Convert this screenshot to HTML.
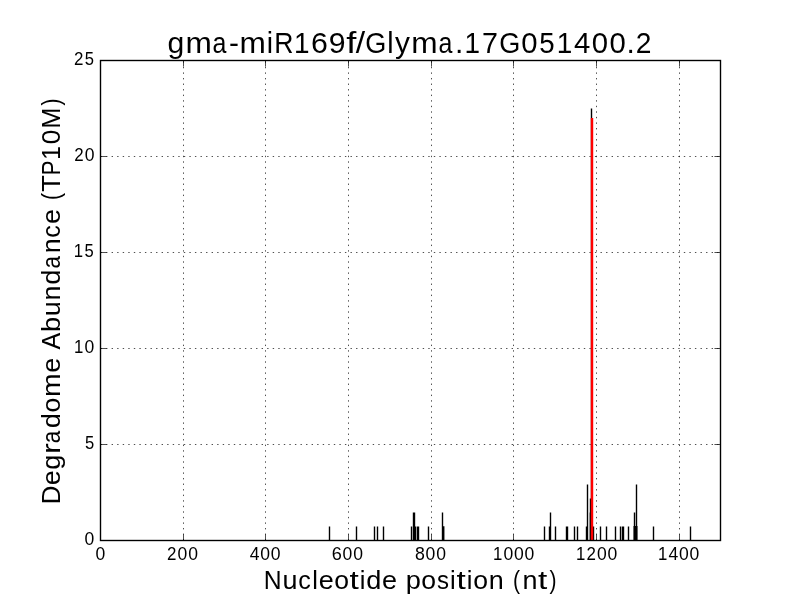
<!DOCTYPE html>
<html><head><meta charset="utf-8"><title>gma-miR169f/Glyma.17G051400.2</title>
<style>
html,body{margin:0;padding:0;background:#fff;width:800px;height:600px;overflow:hidden}
svg{display:block;will-change:transform}
text{font-family:"Liberation Sans",sans-serif;fill:#000}
</style></head><body>
<svg width="800" height="600" viewBox="0 0 800 600">
<rect width="800" height="600" fill="#fff"/>
<line x1="183.5" y1="540" x2="183.5" y2="60" stroke="#000" stroke-width="0.6944" stroke-dasharray="1.3889 4.1667" stroke-dashoffset="0.5"/>
<line x1="265.5" y1="540" x2="265.5" y2="60" stroke="#000" stroke-width="0.6944" stroke-dasharray="1.3889 4.1667" stroke-dashoffset="0.5"/>
<line x1="348.5" y1="540" x2="348.5" y2="60" stroke="#000" stroke-width="0.6944" stroke-dasharray="1.3889 4.1667" stroke-dashoffset="0.5"/>
<line x1="431.5" y1="540" x2="431.5" y2="60" stroke="#000" stroke-width="0.6944" stroke-dasharray="1.3889 4.1667" stroke-dashoffset="0.5"/>
<line x1="513.5" y1="540" x2="513.5" y2="60" stroke="#000" stroke-width="0.6944" stroke-dasharray="1.3889 4.1667" stroke-dashoffset="0.5"/>
<line x1="596.5" y1="540" x2="596.5" y2="60" stroke="#000" stroke-width="0.6944" stroke-dasharray="1.3889 4.1667" stroke-dashoffset="0.5"/>
<line x1="679.5" y1="540" x2="679.5" y2="60" stroke="#000" stroke-width="0.6944" stroke-dasharray="1.3889 4.1667" stroke-dashoffset="0.5"/>
<line x1="100" y1="156.5" x2="720" y2="156.5" stroke="#000" stroke-width="0.6944" stroke-dasharray="1.3889 4.1667" stroke-dashoffset="-0.5"/>
<line x1="100" y1="252.5" x2="720" y2="252.5" stroke="#000" stroke-width="0.6944" stroke-dasharray="1.3889 4.1667" stroke-dashoffset="-0.5"/>
<line x1="100" y1="348.5" x2="720" y2="348.5" stroke="#000" stroke-width="0.6944" stroke-dasharray="1.3889 4.1667" stroke-dashoffset="-0.5"/>
<line x1="100" y1="444.5" x2="720" y2="444.5" stroke="#000" stroke-width="0.6944" stroke-dasharray="1.3889 4.1667" stroke-dashoffset="-0.5"/>
<line x1="183.5" y1="540" x2="183.5" y2="534.444" stroke="#000" stroke-width="0.6944"/>
<line x1="183.5" y1="60" x2="183.5" y2="66.6" stroke="#000" stroke-width="0.6944"/>
<line x1="265.5" y1="540" x2="265.5" y2="534.444" stroke="#000" stroke-width="0.6944"/>
<line x1="265.5" y1="60" x2="265.5" y2="66.6" stroke="#000" stroke-width="0.6944"/>
<line x1="348.5" y1="540" x2="348.5" y2="534.444" stroke="#000" stroke-width="0.6944"/>
<line x1="348.5" y1="60" x2="348.5" y2="66.6" stroke="#000" stroke-width="0.6944"/>
<line x1="431.5" y1="540" x2="431.5" y2="534.444" stroke="#000" stroke-width="0.6944"/>
<line x1="431.5" y1="60" x2="431.5" y2="66.6" stroke="#000" stroke-width="0.6944"/>
<line x1="513.5" y1="540" x2="513.5" y2="534.444" stroke="#000" stroke-width="0.6944"/>
<line x1="513.5" y1="60" x2="513.5" y2="66.6" stroke="#000" stroke-width="0.6944"/>
<line x1="596.5" y1="540" x2="596.5" y2="534.444" stroke="#000" stroke-width="0.6944"/>
<line x1="596.5" y1="60" x2="596.5" y2="66.6" stroke="#000" stroke-width="0.6944"/>
<line x1="679.5" y1="540" x2="679.5" y2="534.444" stroke="#000" stroke-width="0.6944"/>
<line x1="679.5" y1="60" x2="679.5" y2="66.6" stroke="#000" stroke-width="0.6944"/>
<line x1="100" y1="156.5" x2="106.6" y2="156.5" stroke="#000" stroke-width="0.6944"/>
<line x1="720" y1="156.5" x2="714.444" y2="156.5" stroke="#000" stroke-width="0.6944"/>
<line x1="100" y1="252.5" x2="106.6" y2="252.5" stroke="#000" stroke-width="0.6944"/>
<line x1="720" y1="252.5" x2="714.444" y2="252.5" stroke="#000" stroke-width="0.6944"/>
<line x1="100" y1="348.5" x2="106.6" y2="348.5" stroke="#000" stroke-width="0.6944"/>
<line x1="720" y1="348.5" x2="714.444" y2="348.5" stroke="#000" stroke-width="0.6944"/>
<line x1="100" y1="444.5" x2="106.6" y2="444.5" stroke="#000" stroke-width="0.6944"/>
<line x1="720" y1="444.5" x2="714.444" y2="444.5" stroke="#000" stroke-width="0.6944"/>
<path d="M329.5 540V526.5M356.5 540V526.5M374.5 540V526.5M377.5 540V526.5M383.5 540V526.5M411.5 540V526.5M413.5 540V512.5M414.5 540V512.5M415.5 540V526.5M417.5 540V526.5M418.5 540V526.5M428.5 540V526.5M442.5 540V512.5M443.75 540V526.25M544.5 540V526.5M549.5 540V526.5M550.5 540V512.5M555.5 540V526.5M566.5 540V526.5M567.5 540V526.5M574.5 540V526.5M577.5 540V526.5M586.5 540V526.5M587.5 540V484.5M590.5 540V498.5M591.5 540V108.5M593.5 540V526.5M600.5 540V526.5M606.5 540V526.5M615.5 540V526.5M620.5 540V526.5M622.5 540V526.5M623.5 540V526.5M628.5 540V526.5M634.5 540V512.5M635.5 540V526M636.5 540V484.5M653.5 540V526.5M690.5 540V526.5" stroke="#000" stroke-width="1.3889" fill="none"/>
<rect x="589" y="512.5" width="1" height="27.5" fill="#000" fill-opacity="0.3"/>
<rect x="633" y="526" width="1" height="14" fill="#000" fill-opacity="0.5"/>
<rect x="637" y="526" width="1" height="14" fill="#000" fill-opacity="0.5"/>
<rect x="590.785" y="118" width="2.43" height="422" fill="#f00"/>
<rect x="100.5" y="60.5" width="620" height="480" fill="none" stroke="#000" stroke-width="1.3889"/>
<text y="53.00" font-size="29.43"><tspan x="167.64" textLength="16.79" lengthAdjust="spacingAndGlyphs">g</tspan><tspan x="185.41" textLength="26.36" lengthAdjust="spacingAndGlyphs">m</tspan><tspan x="212.62" textLength="13.89" lengthAdjust="spacingAndGlyphs">a</tspan><tspan x="229.05" textLength="9.97" lengthAdjust="spacingAndGlyphs">-</tspan><tspan x="239.46" textLength="26.36" lengthAdjust="spacingAndGlyphs">m</tspan><tspan x="266.79" textLength="6.31" lengthAdjust="spacingAndGlyphs">i</tspan><tspan x="274.32" textLength="19.19" lengthAdjust="spacingAndGlyphs">R</tspan><tspan x="293.98" textLength="15.55" lengthAdjust="spacingAndGlyphs">1</tspan><tspan x="311.11" textLength="16.85" lengthAdjust="spacingAndGlyphs">6</tspan><tspan x="328.70" textLength="16.82" lengthAdjust="spacingAndGlyphs">9</tspan><tspan x="346.15" textLength="10.13" lengthAdjust="spacingAndGlyphs">f</tspan><tspan x="355.79" textLength="9.36" lengthAdjust="spacingAndGlyphs">/</tspan><tspan x="365.34" textLength="21.07" lengthAdjust="spacingAndGlyphs">G</tspan><tspan x="387.35" textLength="6.31" lengthAdjust="spacingAndGlyphs">l</tspan><tspan x="395.11" textLength="14.92" lengthAdjust="spacingAndGlyphs">y</tspan><tspan x="411.20" textLength="26.36" lengthAdjust="spacingAndGlyphs">m</tspan><tspan x="438.42" textLength="13.89" lengthAdjust="spacingAndGlyphs">a</tspan><tspan x="455.04" textLength="8.35" lengthAdjust="spacingAndGlyphs">.</tspan><tspan x="464.56" textLength="15.55" lengthAdjust="spacingAndGlyphs">1</tspan><tspan x="482.10" textLength="15.93" lengthAdjust="spacingAndGlyphs">7</tspan><tspan x="499.14" textLength="21.07" lengthAdjust="spacingAndGlyphs">G</tspan><tspan x="521.14" textLength="16.29" lengthAdjust="spacingAndGlyphs">0</tspan><tspan x="539.14" textLength="15.37" lengthAdjust="spacingAndGlyphs">5</tspan><tspan x="556.68" textLength="15.55" lengthAdjust="spacingAndGlyphs">1</tspan><tspan x="574.10" textLength="16.29" lengthAdjust="spacingAndGlyphs">4</tspan><tspan x="591.76" textLength="16.29" lengthAdjust="spacingAndGlyphs">0</tspan><tspan x="609.42" textLength="16.29" lengthAdjust="spacingAndGlyphs">0</tspan><tspan x="626.61" textLength="8.35" lengthAdjust="spacingAndGlyphs">.</tspan><tspan x="635.82" textLength="15.70" lengthAdjust="spacingAndGlyphs">2</tspan></text>
<text y="589.00" font-size="26.49"><tspan x="263.78" textLength="17.83" lengthAdjust="spacingAndGlyphs">N</tspan><tspan x="282.43" textLength="14.99" lengthAdjust="spacingAndGlyphs">u</tspan><tspan x="298.22" textLength="12.54" lengthAdjust="spacingAndGlyphs">c</tspan><tspan x="312.28" textLength="5.68" lengthAdjust="spacingAndGlyphs">l</tspan><tspan x="318.83" textLength="15.02" lengthAdjust="spacingAndGlyphs">e</tspan><tspan x="334.24" textLength="14.78" lengthAdjust="spacingAndGlyphs">o</tspan><tspan x="349.44" textLength="9.28" lengthAdjust="spacingAndGlyphs">t</tspan><tspan x="359.72" textLength="5.68" lengthAdjust="spacingAndGlyphs">i</tspan><tspan x="366.26" textLength="15.11" lengthAdjust="spacingAndGlyphs">d</tspan><tspan x="382.12" textLength="15.02" lengthAdjust="spacingAndGlyphs">e</tspan> <tspan x="405.73" textLength="15.13" lengthAdjust="spacingAndGlyphs">p</tspan><tspan x="421.35" textLength="14.78" lengthAdjust="spacingAndGlyphs">o</tspan><tspan x="437.07" textLength="11.98" lengthAdjust="spacingAndGlyphs">s</tspan><tspan x="450.05" textLength="5.68" lengthAdjust="spacingAndGlyphs">i</tspan><tspan x="456.52" textLength="9.28" lengthAdjust="spacingAndGlyphs">t</tspan><tspan x="466.80" textLength="5.68" lengthAdjust="spacingAndGlyphs">i</tspan><tspan x="473.36" textLength="14.78" lengthAdjust="spacingAndGlyphs">o</tspan><tspan x="488.87" textLength="14.99" lengthAdjust="spacingAndGlyphs">n</tspan> <tspan x="513.02" textLength="7.04" lengthAdjust="spacingAndGlyphs">(</tspan><tspan x="522.42" textLength="14.99" lengthAdjust="spacingAndGlyphs">n</tspan><tspan x="537.95" textLength="9.28" lengthAdjust="spacingAndGlyphs">t</tspan><tspan x="549.46" textLength="7.04" lengthAdjust="spacingAndGlyphs">)</tspan></text>
<text transform="translate(60.00 503) rotate(-90)" font-size="26.49"><tspan x="-1.29" textLength="18.68" lengthAdjust="spacingAndGlyphs">D</tspan><tspan x="17.86" textLength="15.02" lengthAdjust="spacingAndGlyphs">e</tspan><tspan x="33.24" textLength="15.11" lengthAdjust="spacingAndGlyphs">g</tspan><tspan x="49.02" textLength="10.67" lengthAdjust="spacingAndGlyphs">r</tspan><tspan x="59.70" textLength="12.50" lengthAdjust="spacingAndGlyphs">a</tspan><tspan x="74.71" textLength="15.11" lengthAdjust="spacingAndGlyphs">d</tspan><tspan x="90.61" textLength="14.78" lengthAdjust="spacingAndGlyphs">o</tspan><tspan x="106.02" textLength="23.73" lengthAdjust="spacingAndGlyphs">m</tspan><tspan x="130.22" textLength="15.02" lengthAdjust="spacingAndGlyphs">e</tspan> <tspan x="153.46" textLength="16.80" lengthAdjust="spacingAndGlyphs">A</tspan><tspan x="170.94" textLength="15.13" lengthAdjust="spacingAndGlyphs">b</tspan><tspan x="186.66" textLength="14.99" lengthAdjust="spacingAndGlyphs">u</tspan><tspan x="202.61" textLength="14.99" lengthAdjust="spacingAndGlyphs">n</tspan><tspan x="218.22" textLength="15.11" lengthAdjust="spacingAndGlyphs">d</tspan><tspan x="234.39" textLength="12.50" lengthAdjust="spacingAndGlyphs">a</tspan><tspan x="249.65" textLength="14.99" lengthAdjust="spacingAndGlyphs">n</tspan><tspan x="265.33" textLength="12.54" lengthAdjust="spacingAndGlyphs">c</tspan><tspan x="278.99" textLength="15.02" lengthAdjust="spacingAndGlyphs">e</tspan> <tspan x="302.92" textLength="7.04" lengthAdjust="spacingAndGlyphs">(</tspan><tspan x="311.15" textLength="16.66" lengthAdjust="spacingAndGlyphs">T</tspan><tspan x="327.75" textLength="14.75" lengthAdjust="spacingAndGlyphs">P</tspan><tspan x="343.01" textLength="14.00" lengthAdjust="spacingAndGlyphs">1</tspan><tspan x="358.71" textLength="14.66" lengthAdjust="spacingAndGlyphs">0</tspan><tspan x="374.41" textLength="20.76" lengthAdjust="spacingAndGlyphs">M</tspan><tspan x="397.45" textLength="7.04" lengthAdjust="spacingAndGlyphs">)</tspan></text>
<text y="560.00" font-size="17.66"><tspan x="95.61" textLength="9.77" lengthAdjust="spacingAndGlyphs">0</tspan></text>
<text y="560.00" font-size="17.66"><tspan x="166.93" textLength="9.42" lengthAdjust="spacingAndGlyphs">2</tspan><tspan x="177.55" textLength="9.77" lengthAdjust="spacingAndGlyphs">0</tspan><tspan x="188.13" textLength="9.77" lengthAdjust="spacingAndGlyphs">0</tspan></text>
<text y="560.00" font-size="17.66"><tspan x="249.68" textLength="9.77" lengthAdjust="spacingAndGlyphs">4</tspan><tspan x="260.26" textLength="9.77" lengthAdjust="spacingAndGlyphs">0</tspan><tspan x="270.83" textLength="9.77" lengthAdjust="spacingAndGlyphs">0</tspan></text>
<text y="560.00" font-size="17.66"><tspan x="331.83" textLength="10.11" lengthAdjust="spacingAndGlyphs">6</tspan><tspan x="342.58" textLength="9.77" lengthAdjust="spacingAndGlyphs">0</tspan><tspan x="353.16" textLength="9.77" lengthAdjust="spacingAndGlyphs">0</tspan></text>
<text y="560.00" font-size="17.66"><tspan x="414.97" textLength="9.88" lengthAdjust="spacingAndGlyphs">8</tspan><tspan x="425.60" textLength="9.77" lengthAdjust="spacingAndGlyphs">0</tspan><tspan x="436.18" textLength="9.77" lengthAdjust="spacingAndGlyphs">0</tspan></text>
<text y="560.00" font-size="17.66"><tspan x="493.02" textLength="9.33" lengthAdjust="spacingAndGlyphs">1</tspan><tspan x="503.46" textLength="9.77" lengthAdjust="spacingAndGlyphs">0</tspan><tspan x="514.04" textLength="9.77" lengthAdjust="spacingAndGlyphs">0</tspan><tspan x="524.61" textLength="9.77" lengthAdjust="spacingAndGlyphs">0</tspan></text>
<text y="560.00" font-size="17.66"><tspan x="576.02" textLength="9.33" lengthAdjust="spacingAndGlyphs">1</tspan><tspan x="586.42" textLength="9.42" lengthAdjust="spacingAndGlyphs">2</tspan><tspan x="597.04" textLength="9.77" lengthAdjust="spacingAndGlyphs">0</tspan><tspan x="607.61" textLength="9.77" lengthAdjust="spacingAndGlyphs">0</tspan></text>
<text y="560.00" font-size="17.66"><tspan x="658.02" textLength="9.33" lengthAdjust="spacingAndGlyphs">1</tspan><tspan x="668.46" textLength="9.77" lengthAdjust="spacingAndGlyphs">4</tspan><tspan x="679.04" textLength="9.77" lengthAdjust="spacingAndGlyphs">0</tspan><tspan x="689.61" textLength="9.77" lengthAdjust="spacingAndGlyphs">0</tspan></text>
<text y="545.00" font-size="17.66"><tspan x="84.61" textLength="9.77" lengthAdjust="spacingAndGlyphs">0</tspan></text>
<text y="449.00" font-size="17.66"><tspan x="84.91" textLength="9.22" lengthAdjust="spacingAndGlyphs">5</tspan></text>
<text y="353.00" font-size="17.66"><tspan x="74.10" textLength="9.33" lengthAdjust="spacingAndGlyphs">1</tspan><tspan x="84.54" textLength="9.77" lengthAdjust="spacingAndGlyphs">0</tspan></text>
<text y="257.00" font-size="17.66"><tspan x="73.78" textLength="9.33" lengthAdjust="spacingAndGlyphs">1</tspan><tspan x="84.42" textLength="9.22" lengthAdjust="spacingAndGlyphs">5</tspan></text>
<text y="161.00" font-size="17.66"><tspan x="74.22" textLength="9.42" lengthAdjust="spacingAndGlyphs">2</tspan><tspan x="84.84" textLength="9.77" lengthAdjust="spacingAndGlyphs">0</tspan></text>
<text y="65.00" font-size="17.66"><tspan x="73.90" textLength="9.42" lengthAdjust="spacingAndGlyphs">2</tspan><tspan x="84.73" textLength="9.22" lengthAdjust="spacingAndGlyphs">5</tspan></text>
</svg>
</body></html>
